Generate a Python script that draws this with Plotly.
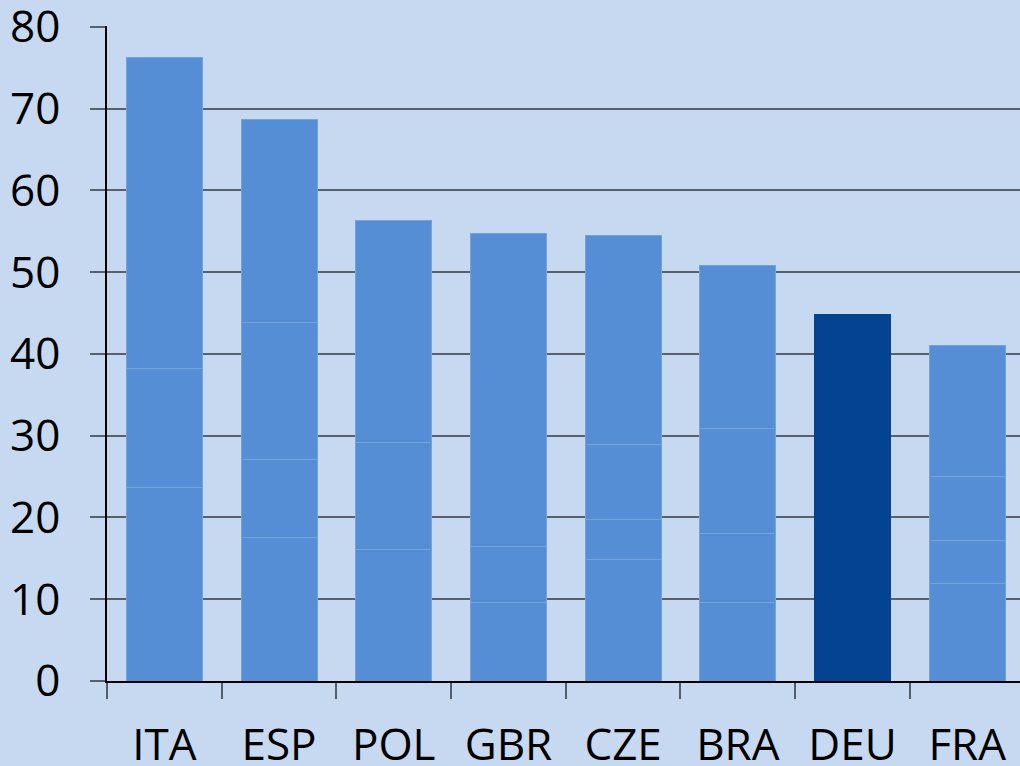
import plotly.graph_objects as go

# countries, left to right
paises = ['ITA', 'ESP', 'POL', 'GBR', 'CZE', 'BRA', 'DEU', 'FRA']

# stacked pieces from the bottom up (None = no piece)
parte1 = [23.7, 17.5, 16.1, 9.6, 14.9, 9.6, 44.8, 11.9]
parte2 = [14.5, 9.6, 13.1, 6.9, 4.8, 8.4, None, 5.3]
parte3 = [38.1, 16.7, 27.1, 38.2, 9.2, 12.9, None, 7.8]
parte4 = [None, 24.9, None, None, 25.6, 19.9, None, 16.0]

azul = '#558ed5'
azul_escuro = '#03438f'
cores = [azul_escuro if p == 'DEU' else azul for p in paises]
bordas = [azul_escuro if p == 'DEU' else '#73a2dc' for p in paises]

fig = go.Figure()
for parte in [parte1, parte2, parte3, parte4]:
      fig.add_trace(go.Bar(
            x=paises,
            y=parte,
            marker=dict(color=cores, line=dict(color=bordas, width=1)),
            showlegend=False,
            hoverinfo='skip'
      ))

fig.update_layout(
      barmode='stack',
      bargap=0.337,
      width=1020,
      height=766,
      margin=dict(l=107, r=0, t=26, b=85),
      paper_bgcolor='#c6d9f0',
      plot_bgcolor='#c6d9f0',
      font=dict(family='Open Sans', size=44, color='#000000')
)

fig.update_xaxes(
      range=[-0.5, 7.46], automargin=False,
      showline=True, linecolor='#000000', linewidth=1.5,
      ticks='outside', tickson='boundaries', ticklen=16, tickcolor='#555d6a', tickwidth=1.5,
      ticklabelstandoff=24, ticklabeloverflow='allow',
      showgrid=False
)
fig.update_yaxes(
      range=[0, 80.1], tickvals=[0, 10, 20, 30, 40, 50, 60, 70, 80], automargin=False,
      showline=True, linecolor='#000000', linewidth=1.5,
      ticks='outside', ticklen=15, tickcolor='#59616e', tickwidth=1.5,
      ticklabelstandoff=21, ticklabeloverflow='allow',
      showgrid=True, gridcolor='#59616e', gridwidth=1.5,
      zeroline=False
)

fig.write_html(
      "out.html",
      config={'displayModeBar': False},
      post_script="document.body.style.margin='0';document.body.style.overflow='hidden';"
)
